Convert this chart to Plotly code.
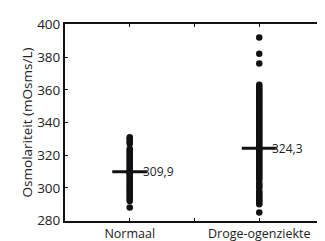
import plotly.graph_objects as go

categories = ["Normaal", "Droge-ogenziekte"]
cat_pos = [1, 2]
normaal = [331, 330, 329, 328, 327, 324, 323, 322, 321, 320, 319, 318, 317, 316,
           315, 314, 313, 312, 311, 310, 309.5, 309, 308, 307, 306, 305, 304, 303,
           302, 301, 300, 299, 298, 297, 296, 295, 294, 293, 292, 288]
droge = [392, 382, 376, 363, 362, 361, 360, 359, 358, 357, 356, 355, 354, 353,
         352, 351, 350, 349, 348, 347, 346, 345, 344, 343, 342, 341, 340, 339,
         338, 337, 336, 335, 334, 333, 332, 331, 330, 329, 328, 327, 326, 325,
         324, 323, 322, 321, 320, 319, 318, 317, 316, 315, 314, 313, 312, 311,
         310, 309, 308, 307, 306, 305, 303, 302, 301, 300, 298, 297, 296, 295,
         294, 293, 292, 291, 290, 285]
means = [309.9, 324.3]
mean_labels = ["309,9", "324,3"]
y_ticks = [280, 300, 320, 340, 360, 380, 400]

font = "Open Sans"
fig = go.Figure()
for pos, vals in zip(cat_pos, [normaal, droge]):
    fig.add_trace(go.Scatter(x=[pos] * len(vals), y=vals, mode="markers",
                             marker=dict(color="#111111", size=6.5),
                             showlegend=False, hoverinfo="skip"))
fig.add_trace(go.Scatter(x=cat_pos, y=means, mode="markers",
                         marker=dict(symbol="line-ew-open", size=25, color="#111111",
                                     line=dict(color="#111111", width=3)),
                         showlegend=False, hoverinfo="skip"))
for pos, m, lab in zip(cat_pos, means, mean_labels):
    fig.add_annotation(x=pos, y=m, text=lab, showarrow=False, xanchor="left",
                       xshift=11, font=dict(family=font, size=12, color="#222222"))

fig.update_layout(
    width=325, height=241,
    margin=dict(l=57, r=7, t=10, b=26),
    plot_bgcolor="white", paper_bgcolor="white",
    font=dict(family=font, size=12, color="#222222"),
    xaxis=dict(range=[0.5, 2.5], tickvals=[1, 1.5, 2],
               ticktext=[categories[0], "", categories[1]],
               showgrid=False, zeroline=False, showline=True, linecolor="#111111",
               linewidth=2, mirror="ticks", ticks="inside", ticklen=3,
               tickcolor="#111111", tickfont=dict(size=12.5)),
    yaxis=dict(range=[279.8, 400.2], tickvals=y_ticks, showgrid=False, zeroline=False,
               showline=True, linecolor="#111111", linewidth=2, mirror="ticks",
               ticks="inside", ticklen=3, tickcolor="#111111",
               tickfont=dict(size=13.5),
               title=dict(text="Osmolariteit (mOsms/L)", font=dict(size=13.5), standoff=1)),
)
fig.write_html("out.html")
